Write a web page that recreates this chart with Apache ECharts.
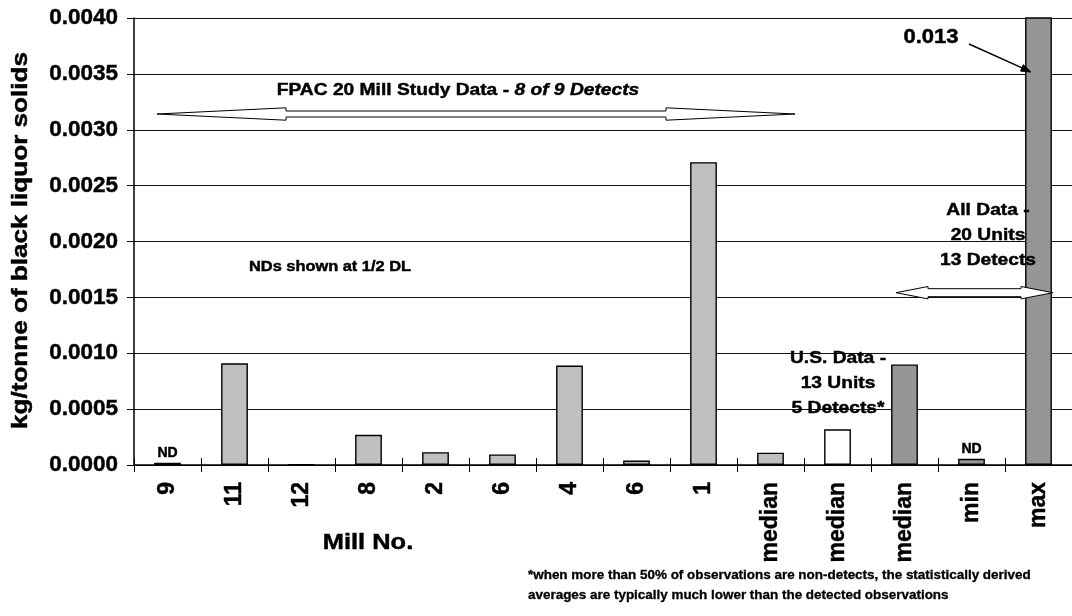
<!DOCTYPE html>
<html>
<head>
<meta charset="utf-8">
<script src="https://cdn.jsdelivr.net/npm/echarts@6/dist/echarts.min.js"></script>
<style>
  html, body { margin: 0; padding: 0; background: #fff; }
  #chart { width: 1072px; height: 616px; }
</style>
</head>
<body>
<div id="chart"></div>
<script>
// ---- data ----
const categories = ['9', '11', '12', '8', '2', '6', '4', '6', '1', 'median', 'median', 'median', 'min', 'max'];
const values = [0.00002, 0.00091, 0.000006, 0.00027, 0.000115, 0.000095, 0.00089, 0.00004, 0.00271, 0.00011, 0.00032, 0.0009, 0.000055, 0.013];
const groups = ['fpac', 'fpac', 'fpac', 'fpac', 'fpac', 'fpac', 'fpac', 'fpac', 'fpac', 'fpac', 'us', 'all', 'all', 'all'];
const ndFlags = [true, false, false, false, false, false, false, false, false, false, false, false, true, false];
const yTicks = { min: 0, max: 0.004, interval: 0.0005 };

// ---- styles ----
const FONT = '"Liberation Sans", Arial, Helvetica, sans-serif';
const groupColors = { fpac: '#C0C0C0', us: '#FFFFFF', all: '#969696' };
const SX = 1.13;
const HEAVY = 0.45;

const chart = echarts.init(document.getElementById('chart'), null, { renderer: 'canvas' });

const seriesData = values.map((v, i) => {
  const item = { value: v, itemStyle: { color: groupColors[groups[i]] } };
  if (ndFlags[i]) {
    item.label = { show: true, position: 'top', distance: 3, formatter: 'ND',
      fontFamily: FONT, fontWeight: 'bold', fontSize: 14, color: '#000',
      textBorderColor: '#000', textBorderWidth: HEAVY };
  }
  return item;
});

function txt(x, y, text, size, extra) {
  return Object.assign({
    type: 'text', x: x, y: y, scaleX: SX, z: 100,
    style: Object.assign({
      text: text, x: 0, y: 0,
      font: 'bold ' + size + 'px ' + FONT,
      fill: '#000', stroke: '#000', lineWidth: HEAVY,
      textAlign: 'center', textVerticalAlign: 'middle'
    }, (extra && extra.style) || {})
  }, (extra && extra.el) || {});
}

function dblArrow(x1, x2, yc, headLen, headHalf, shaftHalf) {
  return {
    type: 'polygon', z: 100,
    shape: { points: [
      [x1, yc], [x1 + headLen, yc - headHalf], [x1 + headLen, yc - shaftHalf],
      [x2 - headLen, yc - shaftHalf], [x2 - headLen, yc - headHalf], [x2, yc],
      [x2 - headLen, yc + headHalf], [x2 - headLen, yc + shaftHalf],
      [x1 + headLen, yc + shaftHalf], [x1 + headLen, yc + headHalf]
    ] },
    style: { fill: '#fff', stroke: '#000', lineWidth: 1 }
  };
}

const option = {
  animation: false,
  backgroundColor: '#fff',
  grid: { left: 134, top: 18, width: 944, height: 447, containLabel: false },
  xAxis: [
    {
      type: 'category', data: categories, position: 'bottom',
      axisLine: { show: true, lineStyle: { color: '#000', width: 1.5 } },
      axisTick: { show: true, length: 7, lineStyle: { color: '#000' } },
      axisLabel: { rotate: 90, margin: 17, fontFamily: FONT, fontWeight: 'bold', fontSize: 23, color: '#000',
        textBorderColor: '#000', textBorderWidth: HEAVY },
      splitLine: { show: false }
    },
    {
      type: 'category', data: categories, position: 'bottom', gridIndex: 0,
      axisLine: { show: false },
      axisTick: { show: true, inside: true, length: 7, lineStyle: { color: '#000' } },
      axisLabel: { show: false },
      splitLine: { show: false }
    }
  ],
  yAxis: {
    type: 'value', min: yTicks.min, max: yTicks.max, interval: yTicks.interval,
    axisLine: { show: true, lineStyle: { color: '#000', width: 1.5 } },
    axisTick: { show: true, length: 7, lineStyle: { color: '#000' } },
    axisLabel: { margin: 16, fontFamily: FONT, fontWeight: 'bold', fontSize: 22.5, color: '#000',
      textBorderColor: '#000', textBorderWidth: HEAVY,
      formatter: v => v.toFixed(4) },
    splitLine: { show: true, lineStyle: { color: '#111', width: 1 } }
  },
  series: [{
    type: 'bar', xAxisIndex: 0, data: seriesData, barWidth: '40%',
    itemStyle: { borderColor: '#000', borderWidth: 1.4 },
    clip: true
  }],
  graphic: [
    // y axis title
    txt(21, 240.5, 'kg/tonne of black liquor solids', 22.5, { el: { rotation: Math.PI / 2, scaleX: 1.16 } }),
    // x axis title
    txt(368, 543, 'Mill No.', 22.5),
    // FPAC annotation
    {
      type: 'text', x: 458, y: 90, scaleX: SX, z: 100,
      style: {
        text: '{a|FPAC 20 Mill Study Data - }{b|8 of 9 Detects}',
        x: 0, y: 0, textAlign: 'center', textVerticalAlign: 'middle',
        rich: {
          a: { fontFamily: FONT, fontWeight: 'bold', fontSize: 17, fill: '#000', stroke: '#000', lineWidth: HEAVY },
          b: { fontFamily: FONT, fontWeight: 'bold', fontStyle: 'italic', fontSize: 17, fill: '#000', stroke: '#000', lineWidth: HEAVY }
        }
      }
    },
    dblArrow(157, 795, 114, 129, 6.2, 3),
    txt(330, 267, 'NDs shown at 1/2 DL', 14.5),
    txt(838, 383, 'U.S. Data -\n13 Units\n5 Detects*', 17, { style: { lineHeight: 25 } }),
    txt(988, 235, 'All Data -\n20 Units\n13 Detects', 17, { style: { lineHeight: 25 } }),
    dblArrow(896, 1053, 292.7, 32, 6.2, 4),
    txt(931, 38, '0.013', 19.5),
    {
      type: 'line', z: 100,
      shape: { x1: 969, y1: 44, x2: 1022, y2: 67.9 },
      style: { stroke: '#000', lineWidth: 1.5 }
    },
    {
      type: 'polygon', z: 100,
      shape: { points: [[1031, 72], [1020.5, 71.1], [1023.3, 64.7]] },
      style: { fill: '#000', stroke: '#000', lineWidth: 1 }
    },
    // footnote
    txt(528, 586, '*when more than 50% of observations are non-detects, the statistically derived\naverages are typically much lower than the detected observations', 12,
      { el: { scaleX: 1.12 }, style: { textAlign: 'left', lineHeight: 20, lineWidth: 0.3 } })
  ]
};

chart.setOption(option);
</script>
</body>
</html>
